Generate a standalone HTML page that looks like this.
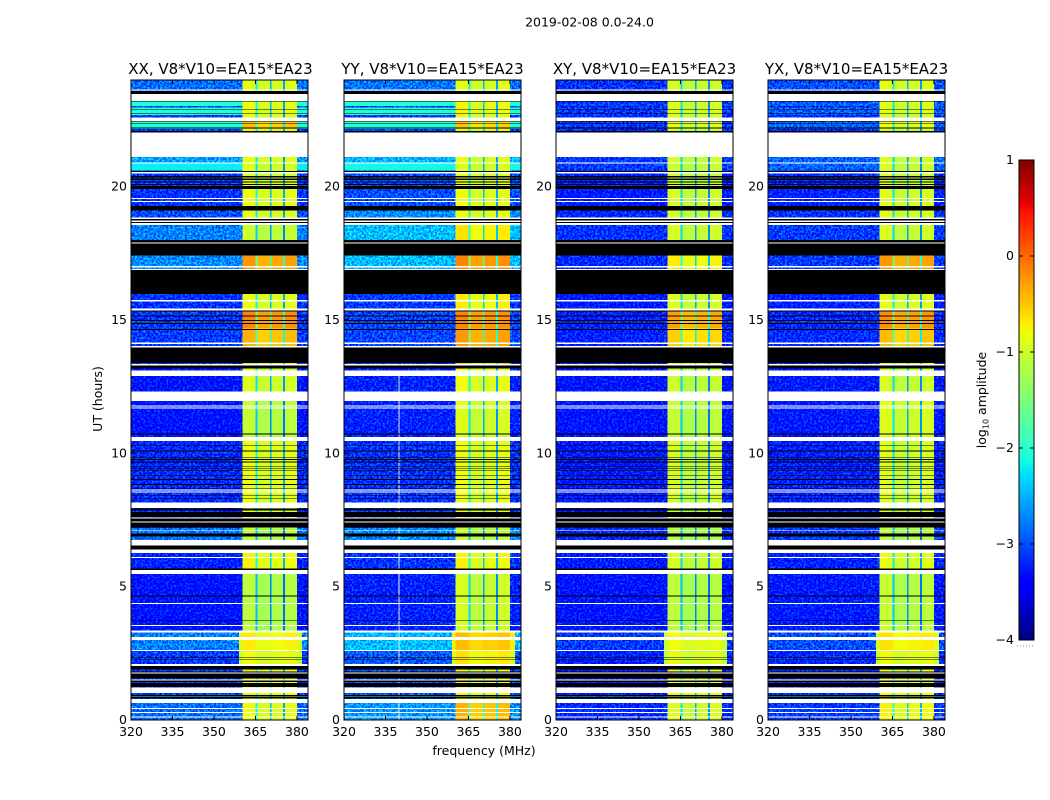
<!DOCTYPE html>
<html lang="en">
<head>
<meta charset="utf-8">
<title>2019-02-08 0.0-24.0</title>
<style>
html,body{margin:0;padding:0;background:#fff;}
svg{display:block;}
text{font-family:"DejaVu Sans","Liberation Sans",sans-serif;font-size:12.5px;fill:#000;}
.ttl{font-size:15px;}
</style>
</head>
<body>
<svg id="figure" xmlns="http://www.w3.org/2000/svg" width="1050" height="800" viewBox="0 0 1050 800">
<defs>
<filter id="speckle" x="0" y="0" width="1" height="1" color-interpolation-filters="sRGB">
<feTurbulence type="fractalNoise" baseFrequency="0.48" numOctaves="2" seed="7" result="n"/>
<feColorMatrix in="n" type="matrix" values="0 0 0 0 0.5  0 3 0 0 -1  0 0 0 0 0.5  0 0 0 0 1" result="g"/>
<feComposite in="SourceGraphic" in2="g" operator="arithmetic" k1="0" k2="1" k3="0.6" k4="-0.3" result="m"/>
<feComposite in="m" in2="SourceAlpha" operator="in"/>
</filter>
</defs>
<text x="589.5" y="26.5" text-anchor="middle">2019-02-08 0.0-24.0</text>
<text transform="translate(102,399) rotate(-90)" text-anchor="middle">UT (hours)</text>
<text x="484" y="755" text-anchor="middle">frequency (MHz)</text>
<text transform="translate(986,400) rotate(-90)" text-anchor="middle">log<tspan font-size="8" dy="2.5">10</tspan><tspan dy="-2.5"> amplitude</tspan></text>
<g id="panels"></g>
<g id="colorbar"></g>
</svg>
<script>
// ---- Data ----
const polarizations = ['XX', 'YY', 'XY', 'YX'];
const baselineLabel = 'V8*V10=EA15*EA23';
const freqTicks = [320, 335, 350, 365, 380];
const hourTicks = [0, 5, 10, 15, 20];
const colorTicks = [-4, -3, -2, -1, 0, 1];

// Time blocks (UT hours at start of each block)
const blockStart = [0, 0.63, 0.86, 0.89, 2.025, 2.6, 3.3, 5.6, 6.3, 7.2, 8.2, 10.5, 12, 13.3, 14, 14.7, 15.4, 16, 17.45, 18.6, 19.1, 19.9, 20.6, 20.9, 21.11, 22.16, 22.6, 22.68, 22.97, 23.02, 23.19];
const blockEnd = 24;
const blockWide = [0, 0, 0, 0, 1, 1, 0, 0, 0, 0, 0, 0, 0, 0, 0, 0, 0, 0, 0, 0, 0, 0, 0, 0, 0, 0, 0, 0, 0, 0, 0];

// Off-band level (log10 amplitude) per block
const offBandXX = [-2.85, -3.1, -2.0, -3.1, -3.1, -2.75, -3.35, -3.25, -2.8, -3.2, -3.2, -3.35, -3.35, -3.1, -3.1, -3.1, -3.15, -2.7, -2.75, -3.0, -3.15, -3.1, -2.2, -2.6, -3.1, -2.05, -3.1, -2.05, -3.1, -2.05, -2.85];
const offBandYY = [-2.65, -3.0, -2.0, -3.0, -2.95, -2.45, -3.25, -3.15, -2.7, -3.1, -3.15, -3.25, -3.25, -3.1, -3.05, -3.05, -3.1, -2.45, -2.45, -2.7, -3.0, -3.0, -2.15, -2.5, -3.1, -2.05, -3.1, -2.05, -3.1, -2.05, -2.8];
const offBandXY = [-3.2, -3.3, -2.4, -3.3, -3.25, -3.1, -3.35, -3.3, -3.2, -3.3, -3.3, -3.35, -3.35, -3.2, -3.25, -3.25, -3.3, -3.2, -3.15, -3.2, -3.3, -3.25, -3.1, -3.1, -3.2, -3.1, -3.2, -3.1, -3.2, -3.1, -3.15];
const offBandYX = [-3.1, -3.2, -2.2, -3.2, -3.2, -3.0, -3.3, -3.25, -3.1, -3.2, -3.25, -3.3, -3.3, -3.2, -3.2, -3.2, -3.25, -3.1, -3.1, -3.15, -3.25, -3.2, -2.9, -2.9, -3.2, -2.9, -3.2, -2.9, -3.2, -2.9, -3.0];

// In-band level per block
const inBandXX = [-0.95, -1.0, -0.8, -0.9, -0.95, -0.85, -1.25, -0.9, -1.25, -1.0, -0.95, -1.2, -1.05, -0.8, -0.55, -0.3, -0.95, -0.4, -1.15, -1.0, -0.95, -1.05, -1.05, -1.0, -1.0, -0.6, -1.0, -0.95, -1.0, -0.95, -1.0];
const inBandYY = [-0.55, -0.9, -0.8, -0.9, -0.8, -0.6, -1.1, -0.9, -1.2, -1.0, -0.95, -1.05, -0.95, -0.7, -0.4, -0.3, -0.85, -0.3, -0.8, -0.95, -0.95, -1.0, -1.05, -1.0, -1.0, -0.65, -1.0, -0.9, -1.0, -0.9, -1.0];
const inBandXY = [-1.05, -1.1, -0.8, -1.0, -1.0, -0.95, -1.25, -1.1, -1.3, -1.15, -1.1, -1.2, -1.15, -0.9, -0.7, -0.45, -1.05, -0.85, -1.1, -1.1, -1.1, -1.15, -1.15, -1.1, -1.1, -1.0, -1.1, -1.05, -1.1, -1.05, -1.1];
const inBandYX = [-0.9, -1.0, -0.8, -0.95, -0.95, -0.8, -1.2, -1.0, -1.25, -1.05, -1.05, -1.05, -1.1, -0.9, -0.6, -0.35, -1.0, -0.4, -1.1, -1.05, -1.05, -1.1, -1.1, -1.1, -1.1, -0.95, -1.1, -1.0, -1.1, -1.0, -1.0];

// Frequency columns (MHz edges) and what each column shows
const freqEdges = [320, 359, 360.4, 365, 365.8, 370.2, 370.8, 375, 375.7, 380, 381.8, 384];
const columnKind = ['off', 'edge', 'band', 'gap', 'band', 'gap', 'band', 'gap', 'band', 'edge', 'off'];
const columnOffset = [0, 0, 0.15, -1.2, 0, -1.5, 0.05, -1.6, 0.1, 0, 0];

// Flagged (blank) time ranges: starts and ends, UT hours
const flagStart = [0.09, 0.26, 0.41, 0.63, 1.02, 1.49, 1.74, 2.025, 2.59, 3.0, 3.29, 3.525, 4.35, 5.475, 6.08, 6.27, 6.54, 7.09, 7.4, 7.55, 7.95, 8.53, 8.61, 10.46, 11.69, 11.75, 11.96, 12.9, 13.3, 13.96, 14.1, 15.35, 15.7, 16.88, 16.96, 17.86, 18.56, 18.68, 18.79, 19.43, 19.54, 20.5, 20.86, 21.11, 22.46, 23.2125, 23.61];
const flagEnd = [0.13, 0.3, 0.45, 0.79, 1.21, 1.526, 1.775, 2.1, 2.625, 3.12, 3.35, 3.56, 4.39, 5.625, 6.12, 6.4, 6.75, 7.11, 7.44, 7.6, 8.15, 8.57, 8.64, 10.62, 11.71, 11.8, 12.31, 13.1, 13.35, 14.03, 14.15, 15.44, 15.75, 16.91, 17.03, 17.9, 18.63, 18.74, 18.84, 19.47, 19.575, 20.55, 20.9, 22.04, 22.6, 23.475, 23.65];

// Zero-amplitude (black) time ranges: starts and ends, UT hours
const zeroStart = [0.81, 0.89, 1.23, 1.425, 1.56, 1.9, 2.25, 2.325, 3.71, 4.63, 5.625, 6.4, 6.875, 7.21, 7.45, 7.62, 7.85, 8.29, 8.41, 8.66, 8.82, 9.0, 9.16, 9.35, 9.41, 9.48, 9.66, 9.75, 9.85, 10.07, 10.29, 10.71, 13.19, 13.38, 14.625, 14.85, 14.97, 15.14, 15.31, 15.98, 17.41, 17.9, 18.63, 18.74, 19.1, 19.92, 20.07, 20.16, 20.25, 20.31, 20.37, 20.55, 22.04, 22.19, 22.35, 22.44, 22.75, 22.875, 23.19, 23.475];
const zeroEnd = [0.86, 0.94, 1.39, 1.49, 1.81, 2.025, 2.27, 2.35, 3.74, 4.66, 5.69, 6.54, 7.0, 7.4, 7.55, 7.8, 7.94, 8.31, 8.44, 8.69, 8.85, 9.03, 9.19, 9.375, 9.44, 9.5, 9.69, 9.78, 9.87, 10.1, 10.31, 10.75, 13.3, 13.96, 14.66, 14.88, 15.0, 15.17, 15.35, 16.88, 17.86, 18.0, 18.68, 18.79, 19.28, 20.03, 20.1, 20.19, 20.28, 20.34, 20.4, 20.59, 22.08, 22.21, 22.37, 22.46, 22.77, 22.9, 23.21, 23.59];

// Flagged channel seen only in YY: frequency span (MHz) and hour span
const flaggedChannelPol = 1;
const flaggedChannelFreq = [339.7, 340.1];
const flaggedChannelHours = [0, 12.9];

// ---- Scales ----
const SVG_NS = 'http://www.w3.org/2000/svg';
const panelLeft = [131, 344, 556, 768];
const panelWidth = 177, plotTop = 80, plotBottom = 720;
const freqMin = 320, freqMax = 384, hourMin = 0, hourMax = 24;
const colorMin = -4, colorMax = 1;
const cbLeft = 1019, cbRight = 1034, cbTop = 160, cbBottom = 640;
const smoothAbove = -2.3;

function xScale(panel, f) { return panelLeft[panel] + (f - freqMin) / (freqMax - freqMin) * panelWidth; }
function yScale(h) { return plotBottom - (h - hourMin) / (hourMax - hourMin) * (plotBottom - plotTop); }
function colorY(v) { return cbBottom - (v - colorMin) / (colorMax - colorMin) * (cbBottom - cbTop); }

function ramp(pts, t) {
  for (let i = 1; i < pts.length; i++) {
    if (t <= pts[i][0]) {
      const a = pts[i - 1], b = pts[i];
      return a[1] + (b[1] - a[1]) * (t - a[0]) / (b[0] - a[0]);
    }
  }
  return pts[pts.length - 1][1];
}
function jet(v) {
  const t = Math.max(0, Math.min(1, (v - colorMin) / (colorMax - colorMin)));
  const r = ramp([[0, 0], [0.35, 0], [0.66, 1], [0.89, 1], [1, 0.5]], t);
  const g = ramp([[0, 0], [0.125, 0], [0.375, 1], [0.64, 1], [0.91, 0], [1, 0]], t);
  const b = ramp([[0, 0.5], [0.11, 1], [0.34, 1], [0.65, 0], [1, 0]], t);
  return 'rgb(' + Math.round(r * 255) + ',' + Math.round(g * 255) + ',' + Math.round(b * 255) + ')';
}
function make(tag, parent, attrs) {
  const el = document.createElementNS(SVG_NS, tag);
  for (const k in attrs) el.setAttribute(k, attrs[k]);
  parent.appendChild(el);
  return el;
}

const offBand = [offBandXX, offBandYY, offBandXY, offBandYX];
const inBand = [inBandXX, inBandYY, inBandXY, inBandYX];

function cellLevel(p, b, c) {
  const kind = columnKind[c];
  if (kind === 'off') return offBand[p][b];
  if (kind === 'band') return inBand[p][b] + columnOffset[c];
  if (blockWide[b]) return inBand[p][b] + (kind === 'edge' ? -0.1 : 0.05);
  if (kind === 'edge') return offBand[p][b];
  return inBand[p][b] + columnOffset[c];
}

const panelsRoot = document.getElementById('panels');
polarizations.forEach(function (pol, p) {
  const panel = make('g', panelsRoot, {});
  
  

  const offGroup = make('g', panel, { filter: 'url(#speckle)', 'shape-rendering': 'crispEdges' });
  
  
  const bandGroup = make('g', panel, { 'shape-rendering': 'crispEdges' });
  
  

  blockStart.forEach(function (start, b) {
    const end = b + 1 < blockStart.length ? blockStart[b + 1] : blockEnd;
    columnKind.forEach(function (kind, c) {
      const level = cellLevel(p, b, c);
      const noisy = (kind === 'off' || (kind === 'edge' && !blockWide[b])) && level < smoothAbove;
      const parent = noisy ? offGroup : bandGroup;
      const x0 = xScale(p, freqEdges[c]), x1 = xScale(p, freqEdges[c + 1]);
      const y0 = yScale(end), y1 = yScale(start);
      const cell = make('rect', parent, { x: x0, y: y0, width: x1 - x0, height: y1 - y0, fill: jet(level) });
      
      
    });
  });

  if (p === flaggedChannelPol) {
    const x0 = xScale(p, flaggedChannelFreq[0]), x1 = xScale(p, flaggedChannelFreq[1]);
    const y0 = yScale(flaggedChannelHours[1]), y1 = yScale(flaggedChannelHours[0]);
    const chan = make('rect', panel, { x: x0, y: y0, width: x1 - x0, height: y1 - y0, fill: '#fff', opacity: 0.8 });
    
    
  }
  zeroStart.forEach(function (start, i) {
    const y0 = yScale(zeroEnd[i]), y1 = yScale(start);
    const band = make('rect', panel, { x: xScale(p, freqMin), y: y0, width: panelWidth, height: y1 - y0, fill: '#000', 'shape-rendering': 'crispEdges' });
    
    
  });
  flagStart.forEach(function (start, i) {
    const y0 = yScale(flagEnd[i]), y1 = yScale(start);
    const band = make('rect', panel, { x: xScale(p, freqMin), y: y0, width: panelWidth, height: y1 - y0, fill: '#fff', 'shape-rendering': 'crispEdges' });
    
    
  });

  const left = panelLeft[p], right = left + panelWidth;
  const frame = make('rect', panel, { x: left, y: plotTop, width: panelWidth, height: plotBottom - plotTop, fill: 'none', stroke: '#000', 'stroke-width': 1, 'shape-rendering': 'crispEdges' });
  
  

  freqTicks.forEach(function (f) {
    const x = xScale(p, f);
    const tickB = make('line', panel, { x1: x, x2: x, y1: plotBottom, y2: plotBottom - 4, stroke: '#000' });
    
    
    const tickT = make('line', panel, { x1: x, x2: x, y1: plotTop, y2: plotTop + 4, stroke: '#000' });
    
    
    const label = make('text', panel, { x: x, y: 736, 'text-anchor': 'middle' });
    label.textContent = f;
    
    
  });
  hourTicks.forEach(function (h) {
    const y = yScale(h);
    const tickL = make('line', panel, { x1: left, x2: left + 4, y1: y, y2: y, stroke: '#000' });
    
    
    const tickR = make('line', panel, { x1: right, x2: right - 4, y1: y, y2: y, stroke: '#000' });
    
    
    const label = make('text', panel, { x: left - 4, y: y + 4, 'text-anchor': 'end' });
    label.textContent = h;
    
    
  });

  const title = make('text', panel, { x: left + panelWidth / 2 + (p === 0 ? 1 : 0), y: 74, 'text-anchor': 'middle', class: 'ttl' });
  title.textContent = pol + ', ' + baselineLabel;
  
  
});

// ---- Colorbar ----
const cbRoot = document.getElementById('colorbar');
for (let row = cbTop; row < cbBottom; row++) {
  const v = colorMax - (row + 0.5 - cbTop) / (cbBottom - cbTop) * (colorMax - colorMin);
  const strip = make('rect', cbRoot, { x: cbLeft, y: row, width: cbRight - cbLeft, height: 1, fill: jet(v), 'shape-rendering': 'crispEdges' });
  
  
}
const cbFrame = make('rect', cbRoot, { x: cbLeft, y: cbTop, width: cbRight - cbLeft, height: cbBottom - cbTop, fill: 'none', stroke: '#000', 'shape-rendering': 'crispEdges' });


colorTicks.forEach(function (v) {
  const y = colorY(v);
  const tickA = make('line', cbRoot, { x1: cbLeft, x2: cbLeft + 4, y1: y, y2: y, stroke: '#000' });
  
  
  const tickB = make('line', cbRoot, { x1: cbRight, x2: cbRight - 4, y1: y, y2: y, stroke: '#000' });
  
  
  const label = make('text', cbRoot, { x: cbLeft - 5, y: y + 4, 'text-anchor': 'end' });
  label.textContent = v < 0 ? '\u2212' + Math.abs(v) : String(v);
  
  
});
const cbDots = make('line', cbRoot, { x1: cbLeft - 2, x2: cbRight, y1: 646, y2: 646, stroke: '#888', 'stroke-width': 1, 'stroke-dasharray': '1 2' });


</script>
</body>
</html>
